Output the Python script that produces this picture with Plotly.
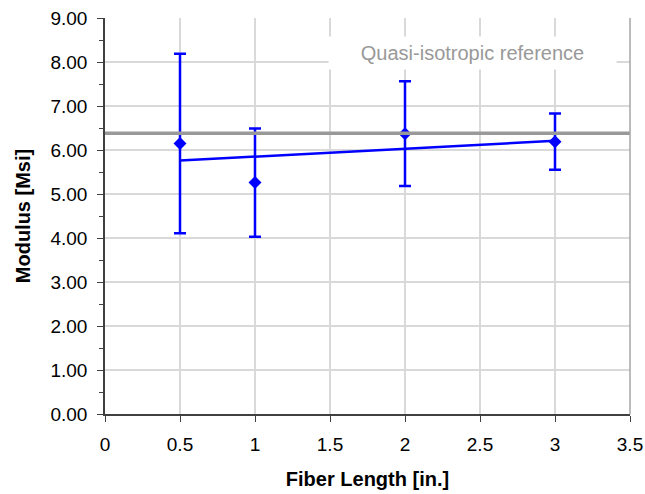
import plotly.graph_objects as go

# Data
fiber_length = [0.5, 1, 2, 3]
modulus = [6.15, 5.26, 6.37, 6.19]
modulus_err = [2.04, 1.23, 1.19, 0.64]
trend_x = [0.5, 3]
trend_y = [5.76, 6.21]
ref_x = [0, 3.5]
ref_y = [6.38, 6.38]
ref_label = "Quasi-isotropic reference"

FONT = "Liberation Sans, Arial, sans-serif"
BLUE = "#0000ff"

fig = go.Figure()

fig.add_trace(go.Scatter(
    x=trend_x, y=trend_y, mode="lines",
    line=dict(color=BLUE, width=2.5),
    showlegend=False))

fig.add_trace(go.Scatter(
    x=fiber_length, y=modulus, mode="markers",
    marker=dict(symbol="diamond", size=10, color=BLUE),
    error_y=dict(type="data", array=modulus_err, visible=True,
                 color=BLUE, thickness=2.5, width=6),
    showlegend=False))

fig.add_trace(go.Scatter(
    x=ref_x, y=ref_y, mode="lines",
    line=dict(color="#999999", width=3.5),
    showlegend=False, hoverinfo="skip"))

fig.add_annotation(
    x=2.45, y=8.2, xref="x", yref="y",
    text=ref_label, showarrow=False,
    font=dict(family=FONT, size=20, color="#999999"),
    bgcolor="white", borderpad=5, width=277, height=22)

fig.update_layout(
    width=645, height=494,
    margin=dict(l=105, r=15, t=18, b=80),
    paper_bgcolor="white", plot_bgcolor="white",
    font=dict(family=FONT, size=19, color="#000000"),
)

fig.update_xaxes(
    range=[0, 3.5], tick0=0, dtick=0.5, automargin=False,
    showgrid=True, gridcolor="#d9d9d9", gridwidth=1.5,
    showline=True, linecolor="#404040", linewidth=1.5,
    ticks="outside", ticklen=6, tickcolor="#404040",
    ticklabelstandoff=6,
    zeroline=False, mirror=False,
    tickfont=dict(size=19, color="#000000"),
    title=dict(text="<b>Fiber Length [in.]</b>", font=dict(size=20), standoff=18),
)
fig.update_yaxes(
    range=[0, 9], tick0=0, dtick=1, tickformat=".2f", automargin=False,
    showgrid=True, gridcolor="#d9d9d9", gridwidth=1.5,
    showline=True, linecolor="#404040", linewidth=1.5,
    ticks="outside", ticklen=6, tickcolor="#404040",
    ticklabelstandoff=6,
    minor=dict(dtick=0.5, ticks="outside", ticklen=4, tickcolor="#404040", showgrid=False),
    zeroline=False,
    tickfont=dict(size=19, color="#000000"),
    title=dict(text="<b>Modulus [Msi]</b>", font=dict(size=20), standoff=14),
)

# right border of plot area
fig.add_shape(type="line", xref="paper", yref="paper", x0=1, x1=1, y0=0, y1=1,
              line=dict(color="#a6a6a6", width=1.5))

fig.write_html("out.html",
               config={"displayModeBar": False},
               post_script="document.body.style.margin='0';document.body.style.overflow='hidden';")
